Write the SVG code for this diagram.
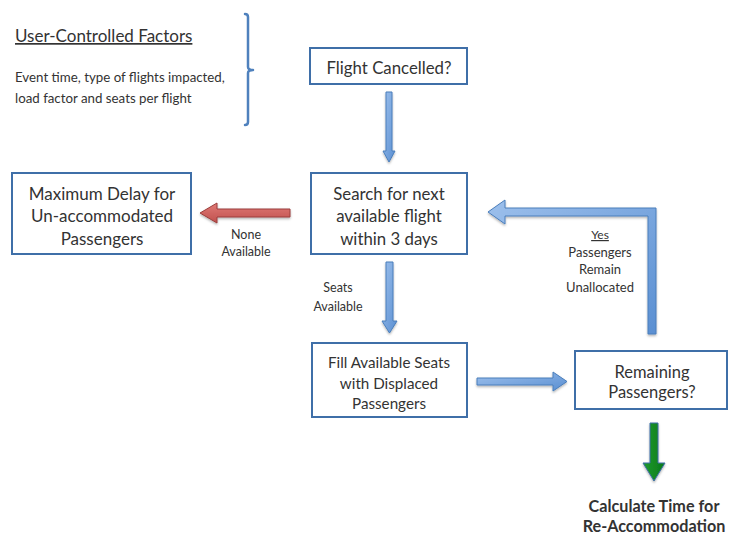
<svg xmlns="http://www.w3.org/2000/svg" width="729" height="536" viewBox="0 0 729 536">
<defs>
<linearGradient id="gb" x1="0" y1="0" x2="1" y2="1"><stop offset="0" stop-color="#9dc0ec"/><stop offset="1" stop-color="#5a8fd2"/></linearGradient>
<linearGradient id="gr" x1="0" y1="0" x2="0" y2="1"><stop offset="0" stop-color="#e07a76"/><stop offset="1" stop-color="#c0504d"/></linearGradient>
<linearGradient id="gg" x1="0" y1="0" x2="1" y2="0"><stop offset="0" stop-color="#1f9a2e"/><stop offset="1" stop-color="#0b7a1a"/></linearGradient>
<filter id="sh" x="-20%" y="-20%" width="140%" height="140%"><feDropShadow dx="0" dy="1.5" stdDeviation="1.2" flood-color="#000" flood-opacity="0.3"/></filter>
</defs>
<style>
.box{fill:#fff;stroke:#3f6fa8;stroke-width:2}
.t{font-family:Lato,"Open Sans",sans-serif;fill:#333;text-anchor:middle}
.l{font-family:Lato,"Open Sans",sans-serif;fill:#333}
.ab{fill:url(#gb);stroke:#4a7ebb;stroke-width:1;filter:url(#sh)}
.ar{fill:url(#gr);stroke:#9b3f3c;stroke-width:1;filter:url(#sh)}
.ag{fill:url(#gg);stroke:#3f6fa8;stroke-width:1;filter:url(#sh)}
.br{fill:none;stroke:#4f81bd;stroke-width:2.5;stroke-linecap:round;stroke-linejoin:round}
</style>

<g id="factors">
<text class="l" x="15" y="42" font-size="17" text-decoration="underline">User-Controlled Factors</text>
<text class="l" x="15" y="82" font-size="13.3">Event time, type of flights impacted,</text>
<text class="l" x="15" y="103" font-size="13.3">load factor and seats per flight</text>
<path class="br" d="M245,14 Q248,14 248,17 L248,67 Q248,70 253,70 Q248,70 248,73 L248,122 Q248,125 245,125"/>
</g>

<g id="connectors">
<polygon class="ab" points="386,92 392,92 392,151 395,151 389,162 383,151 386,151"/>
<polygon class="ar" points="290,209 290,217 217,217 217,223 200,213 217,203 217,209"/>
<polygon class="ab" points="386,262 393,262 393,321 397,321 389.5,333 382,321 386,321"/>
<polygon class="ab" points="477,378 553,378 553,372 567,381.5 553,391 553,385 477,385"/>
<polygon class="ab" points="648,334 648,216 505,216 505,224 488,212 505,200 505,208 656,208 656,334"/>
<polygon class="ag" points="650,423 658,423 658,463 665,463 654,481 643,463 650,463"/>
<text class="t" x="246" y="239" font-size="12.5">None</text>
<text class="t" x="246" y="256" font-size="12.5">Available</text>
<text class="t" x="338" y="292" font-size="12.5">Seats</text>
<text class="t" x="338" y="311" font-size="12.5">Available</text>
<text class="t" x="600" y="239" font-size="12" text-decoration="underline">Yes</text>
<text class="t" x="600" y="257" font-size="13">Passengers</text>
<text class="t" x="600" y="274" font-size="13">Remain</text>
<text class="t" x="600" y="292" font-size="13">Unallocated</text>
</g>

<g id="flight-cancelled">
<rect class="box" x="310" y="48" width="157" height="36"/>
<text class="t" x="389" y="74" font-size="16.8">Flight Cancelled?</text>
</g>

<g id="search">
<rect class="box" x="311" y="173" width="156" height="81"/>
<text class="t" x="389" y="200" font-size="16.8">Search for next</text>
<text class="t" x="389" y="222" font-size="16.8">available flight</text>
<text class="t" x="389" y="245" font-size="16.8">within 3 days</text>
</g>

<g id="max-delay">
<rect class="box" x="12" y="173" width="179" height="81"/>
<text class="t" x="102" y="200" font-size="17">Maximum Delay for</text>
<text class="t" x="102" y="222" font-size="17">Un-accommodated</text>
<text class="t" x="102" y="245" font-size="17">Passengers</text>
</g>

<g id="fill">
<rect class="box" x="312" y="343" width="155" height="74"/>
<text class="t" x="389" y="368" font-size="15.2">Fill Available Seats</text>
<text class="t" x="389" y="389" font-size="15.2">with Displaced</text>
<text class="t" x="389" y="409" font-size="15.2">Passengers</text>
</g>

<g id="remaining">
<rect class="box" x="575" y="351" width="152" height="58"/>
<text class="t" x="652" y="378" font-size="16.5">Remaining</text>
<text class="t" x="652" y="398" font-size="16.5">Passengers?</text>
</g>

<g id="calculate">
<text class="t" x="654" y="512" font-size="16.2" font-weight="bold" fill="#222">Calculate Time for</text>
<text class="t" x="654" y="532" font-size="16.2" font-weight="bold" fill="#222">Re-Accommodation</text>
</g>
</svg>
